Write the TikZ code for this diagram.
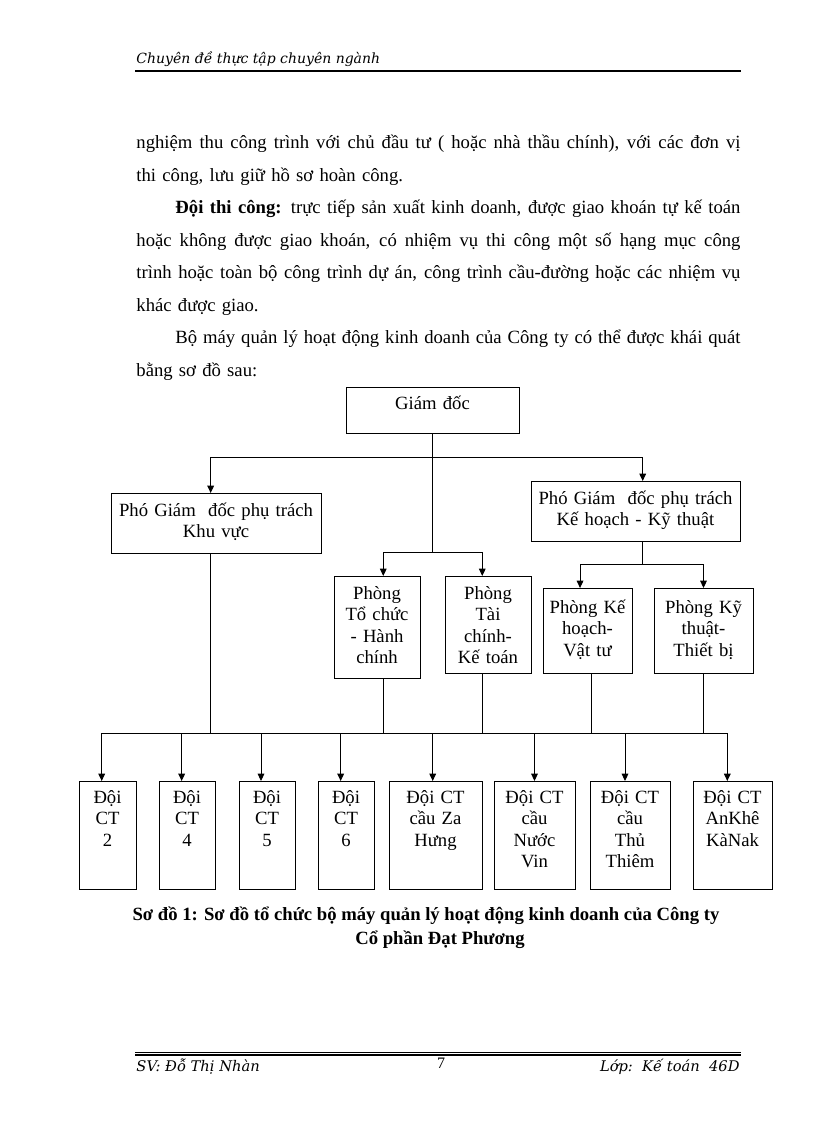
\documentclass[tikz,border=0pt]{standalone}
\usepackage{fontspec}
\setmainfont{Liberation Serif}
\newfontfamily\hdfont{DejaVu Serif}
\usetikzlibrary{positioning,arrows.meta}

\newcommand{\boxfont}{\fontsize{14}{16}\selectfont}
\newcommand{\bodyfont}{\fontsize{14}{24.375}\selectfont}
\newcommand{\jline}[1]{\hbox to 453pt{\spaceskip=3.5pt plus 1fil minus 1pt\relax #1}}

\begin{document}
\begin{tikzpicture}[
    x=0.75pt, y=-0.75pt,
    line width=0.7pt,
    orgbox/.style n args={3}{
        draw,
        align=center,
        anchor=north,
        inner xsep=1pt,
        inner ysep=0pt,
        font=\boxfont,
        text width=#1,
        text height=#2,
        text depth=#3
    },
    teambox/.style={orgbox={#1}{16.5pt}{64.5pt}},
    arrow/.style={-{Triangle[length=5.5pt,width=5pt]}},
    hd/.style={font=\hdfont\itshape\fontsize{10.5}{12}\selectfont, inner sep=0pt},
    ft/.style={font=\hdfont\itshape\fontsize{11}{13}\selectfont, inner sep=0pt}
]

\fill[white] (0,0) rectangle (816,1123);
\useasboundingbox (0,0) rectangle (816,1123);

% header and footer
\node[hd, anchor=base west] (head) at (136,64) {Chuyên đề thực tập chuyên ngành};
\draw[line width=1.5pt] (135,71) -- (741,71);
\draw[line width=0.5pt] (135,1052) -- (741,1052);
\draw[line width=1.2pt] (135,1055) -- (741,1055);
\node[ft, anchor=base west] (student) at (136,1071) {SV: Đỗ Thị Nhàn};
\node[font=\fontsize{12}{14}\selectfont, inner sep=0pt, anchor=base] (page) at (441,1068) {7};
\node[ft, anchor=base east] (class) at (740,1071) {Lớp:\ \ Kế\ toán\ \ 46D};

% text above the chart
\node[anchor=base west, inner sep=0pt, text width=453pt, font=\bodyfont] (body) at (136,149) {%
\jline{nghiệm thu công trình với chủ đầu tư ( hoặc nhà thầu chính), với các đơn vị}
thi công, lưu giữ hồ sơ hoàn công.\par
\jline{\hspace*{29.25pt}\textbf{Đội thi công:} trực tiếp sản xuất kinh doanh, được giao khoán tự kế toán}
\jline{hoặc không được giao khoán, có nhiệm vụ thi công một số hạng mục công}
\jline{trình hoặc toàn bộ công trình dự án, công trình cầu-đường hoặc các nhiệm vụ}
khác được giao.\par
\jline{\hspace*{29.25pt}Bộ máy quản lý hoạt động kinh doanh của Công ty có thể được khái quát}
bằng sơ đồ sau:};

% boxes
\node[orgbox={127.75pt}{16.5pt}{18pt}] (gd) at (432.5,387) {Giám đốc};
\node[orgbox={155.5pt}{17.25pt}{27.75pt}] (pgdL) at (216,493) {Phó Giám\ \ đốc phụ trách\\Khu vực};
\node[orgbox={154.75pt}{17.25pt}{27.75pt}] (pgdR) at (635.5,481) {Phó Giám\ \ đốc phụ trách\\Kế hoạch - Kỹ thuật};
\node[orgbox={62.5pt}{17.25pt}{59.25pt}] (tchc) at (377,576) {Phòng\\Tổ chức\\- Hành\\chính};
\node[orgbox={62.5pt}{17.25pt}{55.5pt}] (tckt) at (488,576) {Phòng\\Tài\\chính-\\Kế toán};
\node[orgbox={64.75pt}{18.75pt}{45pt}] (khvt) at (587.5,588) {Phòng Kế\\hoạch-\\Vật tư};
\node[orgbox={72.25pt}{18.75pt}{45pt}] (kttb) at (703.5,588) {Phòng Kỹ\\thuật-\\Thiết bị};

\node[teambox=40.75pt] (d2) at (107.5,781) {Đội\\CT\\2};
\node[teambox=40pt] (d4) at (187,781) {Đội\\CT\\4};
\node[teambox=40pt] (d5) at (267,781) {Đội\\CT\\5};
\node[teambox=40pt] (d6) at (346,781) {Đội\\CT\\6};
\node[teambox=67.75pt] (zahung) at (435.5,781) {Đội CT\\cầu Za\\Hưng};
\node[teambox=58.75pt] (nuocvin) at (534.5,781) {Đội CT\\cầu\\Nước\\Vin};
\node[teambox=58pt] (thuthiem) at (630,781) {Đội CT\\cầu\\Thủ\\Thiêm};
\node[teambox=57.25pt] (ankhe) at (732.5,781) {Đội CT\\AnKhê\\KàNak};

% bus lines
\coordinate (busA) at (0,457);
\coordinate (busB) at (0,552);
\coordinate (busC) at (0,564);
\coordinate (busD) at (0,733);

% connectors
\draw (gd.south) -- (gd.south |- busB);
\draw[arrow] (gd.south |- busA) -| ([xshift=-4pt]pgdL.north);
\draw[arrow] (gd.south |- busA) -| ([xshift=5.4pt]pgdR.north);
\draw[arrow] (gd.south |- busB) -| ([xshift=4.7pt]tchc.north);
\draw[arrow] (gd.south |- busB) -| ([xshift=-4.3pt]tckt.north);

\draw ([xshift=5.4pt]pgdR.south) -- ([xshift=5.4pt]pgdR.south |- busC);
\draw[arrow] ([xshift=5.4pt]pgdR.south |- busC) -| ([xshift=-5.6pt]khvt.north);
\draw[arrow] ([xshift=5.4pt]pgdR.south |- busC) -| (kttb.north);

\draw ([xshift=-4pt]pgdL.south) -- ([xshift=-4pt]pgdL.south |- busD);
\draw ([xshift=4.7pt]tchc.south) -- ([xshift=4.7pt]tchc.south |- busD);
\draw ([xshift=-4.3pt]tckt.south) -- ([xshift=-4.3pt]tckt.south |- busD);
\draw ([xshift=2.6pt]khvt.south) -- ([xshift=2.6pt]khvt.south |- busD);
\draw (kttb.south) -- (kttb.south |- busD);
\draw ([xshift=-4.35pt]d2.north |- busD) -- ([xshift=-3.9pt]ankhe.north |- busD);

\draw[arrow] ([xshift=-4.35pt]d2.north |- busD) -- ([xshift=-4.35pt]d2.north);
\draw[arrow] ([xshift=-4pt]d4.north |- busD) -- ([xshift=-4pt]d4.north);
\draw[arrow] ([xshift=-4.5pt]d5.north |- busD) -- ([xshift=-4.5pt]d5.north);
\draw[arrow] ([xshift=-4pt]d6.north |- busD) -- ([xshift=-4pt]d6.north);
\draw[arrow] ([xshift=-2.1pt]zahung.north |- busD) -- ([xshift=-2.1pt]zahung.north);
\draw[arrow] (nuocvin.north |- busD) -- (nuocvin.north);
\draw[arrow] ([xshift=-3.75pt]thuthiem.north |- busD) -- ([xshift=-3.75pt]thuthiem.north);
\draw[arrow] ([xshift=-3.9pt]ankhe.north |- busD) -- ([xshift=-3.9pt]ankhe.north);

% caption
\node[font=\bfseries\fontsize{14}{16}\selectfont, inner sep=0pt, anchor=base] (cap1) at (426,920) {Sơ đồ 1: Sơ đồ tổ chức bộ máy quản lý hoạt động kinh doanh của Công ty};
\node[font=\bfseries\fontsize{14}{16}\selectfont, inner sep=0pt, anchor=base] (cap2) at (440,944) {Cổ phần Đạt Phương};

\end{tikzpicture}
\end{document}
